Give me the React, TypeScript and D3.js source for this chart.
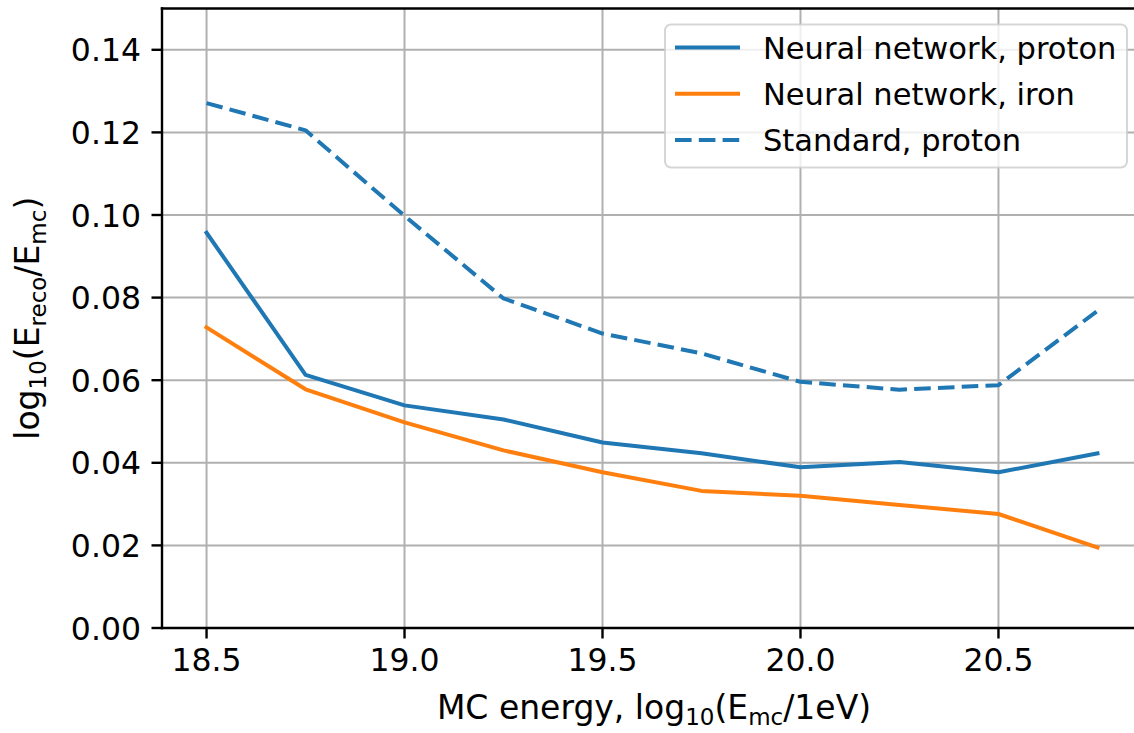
import React from "react";
import * as d3 from "d3";

const energies = [18.5, 18.75, 19.0, 19.25, 19.5, 19.75, 20.0, 20.25, 20.5, 20.75];
const nnProton = [0.0957, 0.0613, 0.0539, 0.0505, 0.0449, 0.0423, 0.0389, 0.0402, 0.0377, 0.0423];
const nnIron = [0.0728, 0.0578, 0.0498, 0.0430, 0.0377, 0.0332, 0.0320, 0.0298, 0.0276, 0.0195];
const standardProton = [0.1271, 0.1205, 0.0998, 0.0798, 0.0713, 0.0665, 0.0596, 0.0577, 0.0588, 0.0768];

const xTicks = [18.5, 19.0, 19.5, 20.0, 20.5];
const yTicks = [0, 0.02, 0.04, 0.06, 0.08, 0.1, 0.12, 0.14];

const seriesNames = ["Neural network, proton", "Neural network, iron", "Standard, proton"];

const W = 1134;
const H = 733;
const left = 162;
const right = 1142;
const top = 8.5;
const bottom = 628;
const FONT = "DejaVu Sans, sans-serif";
const TICK_FS = 31.5;
const LABEL_FS = 33;
const SUB_FS = 23;
const LEG_FS = 30.5;
const BLUE = "#1f77b4";
const ORANGE = "#ff7f0e";

export default function App() {
  const x = d3.scaleLinear().domain([18.3875, 20.8625]).range([left, right]);
  const y = d3.scaleLinear().domain([0, 0.15]).range([bottom, top]);

  const mk = (vals: number[]) =>
    d3
      .line<number>()
      .x((_, i) => x(energies[i]))
      .y((v) => y(v))(vals) as string;

  const series = [
    { name: seriesNames[0], vals: nnProton, color: BLUE, dash: undefined as string | undefined },
    { name: seriesNames[1], vals: nnIron, color: ORANGE, dash: undefined },
    { name: seriesNames[2], vals: standardProton, color: BLUE, dash: "16.6 7.2" },
  ];

  const legW = 462;
  const legX = right - 15 - legW;
  const legY = top + 16;
  const rowH = 46.3;
  const legH = 143;

  return (
    <svg
      width={W}
      height={H}
      style={{ position: "absolute", left: 0, top: 0, background: "#fff" }}
      fontFamily={FONT}
    >
      <defs>
        <clipPath id="plot">
          <rect x={left} y={top} width={right - left} height={bottom - top} />
        </clipPath>
      </defs>
      <rect x={0} y={0} width={W} height={H} fill="#fff" />
      <g clipPath="url(#plot)" stroke="#b0b0b0" strokeWidth={2}>
        {xTicks.map((t) => (
          <line key={"gx" + t} x1={x(t)} x2={x(t)} y1={top} y2={bottom} />
        ))}
        {yTicks.map((t) => (
          <line key={"gy" + t} x1={left} x2={right} y1={y(t)} y2={y(t)} />
        ))}
      </g>
      <g clipPath="url(#plot)" fill="none">
        {series.map((s) => (
          <path
            key={s.name}
            d={mk(s.vals)}
            stroke={s.color}
            strokeWidth={4}
            strokeDasharray={s.dash}
            strokeLinejoin="round"
            strokeLinecap={s.dash ? "butt" : "square"}
          />
        ))}
      </g>
      <g stroke="#000" strokeWidth={2.4} fill="none">
        <line x1={left} x2={left} y1={top - 1.2} y2={bottom + 1.2} />
        <line x1={left - 1.2} x2={right + 1.2} y1={bottom} y2={bottom} />
        <line x1={left - 1.2} x2={right + 1.2} y1={top} y2={top} />
        <line x1={right} x2={right} y1={top} y2={bottom} />
      </g>
      <g stroke="#000" strokeWidth={2.4}>
        {xTicks.map((t) => (
          <line key={"tx" + t} x1={x(t)} x2={x(t)} y1={bottom} y2={bottom + 10.5} />
        ))}
        {yTicks.map((t) => (
          <line key={"ty" + t} x1={left - 10.5} x2={left} y1={y(t)} y2={y(t)} />
        ))}
      </g>
      <g fontSize={TICK_FS} fill="#000">
        {xTicks.map((t) => (
          <text key={"lx" + t} x={x(t)} y={bottom + 43} textAnchor="middle">
            {d3.format(".1f")(t)}
          </text>
        ))}
        {yTicks.map((t) => (
          <text key={"ly" + t} x={left - 21} y={y(t) + 11.5} textAnchor="end">
            {d3.format(".2f")(t)}
          </text>
        ))}
      </g>
      <text x={654} y={719} textAnchor="middle" fontSize={LABEL_FS} fill="#000">
        MC energy, log
        <tspan fontSize={SUB_FS} dy={6}>10</tspan>
        <tspan dy={-6}>(E</tspan>
        <tspan fontSize={SUB_FS} dy={6}>mc</tspan>
        <tspan dy={-6}>/1eV)</tspan>
      </text>
      <text
        transform={`translate(39, ${(top + bottom) / 2}) rotate(-90)`}
        textAnchor="middle"
        fontSize={LABEL_FS}
        fill="#000"
      >
        log
        <tspan fontSize={SUB_FS} dy={7}>10</tspan>
        <tspan dy={-7}>(E</tspan>
        <tspan fontSize={SUB_FS} dy={7}>reco</tspan>
        <tspan dy={-7}>/E</tspan>
        <tspan fontSize={SUB_FS} dy={7}>mc</tspan>
        <tspan dy={-7}>)</tspan>
      </text>
      <g>
        <rect
          x={legX}
          y={legY}
          width={legW}
          height={legH}
          rx={6}
          ry={6}
          fill="#fff"
          fillOpacity={0.8}
          stroke="#cccccc"
          strokeOpacity={0.8}
          strokeWidth={2}
        />
        {series.map((s, i) => {
          const cy = legY + 23 + i * rowH;
          return (
            <g key={"leg" + s.name}>
              <line
                x1={legX + 10}
                x2={legX + 75}
                y1={cy}
                y2={cy}
                stroke={s.color}
                strokeWidth={4}
                strokeDasharray={s.dash}
              />
              <text x={legX + 98} y={cy + 11} fontSize={LEG_FS} fill="#000">
                {s.name}
              </text>
            </g>
          );
        })}
      </g>
    </svg>
  );
}
